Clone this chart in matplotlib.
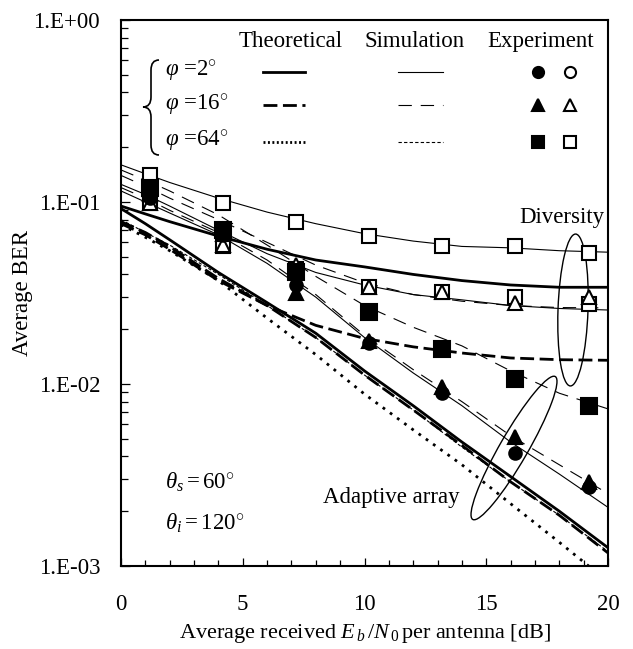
import numpy as np
import matplotlib
matplotlib.use('Agg')
import matplotlib.pyplot as plt
from matplotlib.patches import Ellipse, PathPatch
from matplotlib.path import Path
from matplotlib.ticker import MultipleLocator, LogLocator, NullFormatter, FuncFormatter

plt.rcParams['font.family'] = ['Liberation Serif', 'DejaVu Serif']
plt.rcParams['mathtext.fontset'] = 'custom'
plt.rcParams['mathtext.rm'] = 'Liberation Serif'
plt.rcParams['mathtext.it'] = 'Liberation Serif:italic'
plt.rcParams['font.size'] = 16.5

# Eb/N0 [dB] for the curves
x_curve = [0, 1, 2, 4, 6, 8, 10, 12, 14, 16, 18, 20]

# theoretical (thick)
theo_div_2 = [0.095, 0.086, 0.078, 0.065, 0.055, 0.048, 0.044, 0.040, 0.037, 0.035, 0.034, 0.034]
theo_div_16 = [0.076, 0.066, 0.055, 0.037, 0.027, 0.021, 0.0178, 0.0160, 0.0148, 0.0139, 0.0136, 0.0135]
theo_aa_2 = [0.092, 0.076, 0.062, 0.041, 0.028, 0.019, 0.0118, 0.0076, 0.0048, 0.0031, 0.0020, 0.00126]
theo_aa_16 = [0.078, 0.068, 0.057, 0.038, 0.027, 0.018, 0.0112, 0.0072, 0.0046, 0.0029, 0.0019, 0.00118]
theo_aa_64 = [0.075, 0.064, 0.054, 0.037, 0.023, 0.0145, 0.0088, 0.0056, 0.0036, 0.0022, 0.00135, 0.00082]

# simulation (thin)
sim_div_a = [0.16, 0.143, 0.128, 0.105, 0.088, 0.076, 0.067, 0.061, 0.057, 0.056, 0.054, 0.053]
sim_div_b = [0.125, 0.11, 0.095, 0.07, 0.052, 0.041, 0.035, 0.031, 0.029, 0.027, 0.026, 0.0255]
sim_div_c = [0.14, 0.122, 0.105, 0.08, 0.06, 0.045, 0.036, 0.031, 0.0285, 0.027, 0.0263, 0.0262]
sim_div_d = [0.15, 0.132, 0.115, 0.085, 0.058, 0.039, 0.027, 0.0205, 0.0162, 0.0118, 0.0089, 0.0073]
sim_aa_2 = [0.115, 0.1, 0.087, 0.066, 0.046, 0.03, 0.018, 0.0115, 0.0076, 0.0048, 0.0032, 0.0021]
sim_aa_16 = [0.12, 0.105, 0.09, 0.068, 0.048, 0.031, 0.0185, 0.012, 0.008, 0.0052, 0.0036, 0.0025]
sim_aa_64 = [0.08, 0.068, 0.058, 0.040, 0.027, 0.018, 0.0112, 0.0072, 0.0045, 0.0029, 0.0019, 0.0012]

# experiment
x_exp = [1.2, 4.2, 7.2, 10.2, 13.2, 16.2, 19.2]
exp_aa_circle = [0.105, 0.066, 0.035, 0.0168, 0.0089, 0.0042, 0.0027]
exp_aa_tri = [0.11, 0.067, 0.0318, 0.0172, 0.0096, 0.0051, 0.0029]
exp_aa_sq = [0.119, 0.070, 0.041, 0.025, 0.0156, 0.0107, 0.0076]
exp_div_sq_a = [0.141, 0.099, 0.078, 0.065, 0.057, 0.057, 0.0525]
exp_div_sq_b = [0.099, 0.057, 0.043, 0.034, 0.032, 0.030, 0.0275]
exp_div_tri = [0.099, 0.058, 0.045, 0.034, 0.032, 0.028, 0.030]

fig = plt.figure(figsize=(6.33, 6.49), dpi=100)
ax = fig.add_axes([121/633, 1-566/649, 487/633, 546/649])

thick = 2.0
thin = 0.8
dash_thick = (0, (5, 2))
dot_thick = (0, (1, 2.2))
dash_thin = (0, (12, 8))
dot_thin = (0, (3, 2))

ax.plot(x_curve, sim_div_a, 'k-', lw=thin)
ax.plot(x_curve, sim_div_b, 'k-', lw=thin)
ax.plot(x_curve, sim_div_c, 'k', ls=dash_thin, lw=thin)
ax.plot(x_curve, sim_div_d, 'k', ls=dash_thin, lw=thin)
ax.plot(x_curve, sim_aa_2, 'k-', lw=thin)
ax.plot(x_curve, sim_aa_16, 'k', ls=dash_thin, lw=thin)
ax.plot(x_curve, sim_aa_64, 'k', ls=dot_thin, lw=thin)

ax.plot(x_curve, theo_div_2, 'k-', lw=thick)
ax.plot(x_curve, theo_div_16, 'k', ls=dash_thick, lw=thick)
ax.plot(x_curve, theo_aa_2, 'k-', lw=thick)
ax.plot(x_curve, theo_aa_16, 'k', ls=dash_thick, lw=thick)
ax.plot(x_curve, theo_aa_64, 'k', ls=dot_thick, lw=thick)

ms = dict(ls='none', mec='black', mew=1.5)
ax.plot(x_exp, exp_div_sq_a, marker='s', ms=10.5, mfc='white', **ms)
ax.plot(x_exp, exp_div_sq_b, marker='s', ms=10.5, mfc='white', **ms)
ax.plot(x_exp, exp_div_tri, marker='^', ms=10, mfc='white', **ms)
ax.plot(x_exp, exp_aa_sq, marker='s', ms=11, mfc='black', **ms)
ax.plot(x_exp, exp_aa_circle, marker='o', ms=9, mfc='black', **ms)
ax.plot(x_exp, exp_aa_tri, marker='^', ms=10, mfc='black', **ms)

ax.set_xlim(0, 20)
ax.set_yscale('log')
ax.set_ylim(1e-3, 1)
ax.xaxis.set_major_locator(MultipleLocator(5))
ax.xaxis.set_minor_locator(MultipleLocator(1))
ax.yaxis.set_major_locator(LogLocator(base=10, numticks=10))
ax.yaxis.set_minor_locator(LogLocator(base=10, subs=range(2, 10), numticks=10))
ax.yaxis.set_minor_formatter(NullFormatter())
ax.yaxis.set_major_formatter(FuncFormatter(lambda v, p: '1.E%+03d' % int(round(np.log10(v)))))
ax.tick_params(axis='x', which='major', direction='in', length=6, width=0.9, pad=20)
ax.tick_params(axis='x', which='minor', direction='in', length=4, width=0.9)
ax.tick_params(axis='y', which='major', direction='in', length=6.5, width=0.9, pad=15)
ax.tick_params(axis='y', which='minor', direction='in', length=5, width=0.9)
for s in ax.spines.values():
    s.set_linewidth(1.5)

ax.set_ylabel('Average BER')
ax.yaxis.set_label_coords(-0.18, 0.5)
ax.set_xlabel(r'Average received $E_{\,b}\,/N_{\,0}\,$per antenna [dB]', fontsize=16)
ax.xaxis.set_label_coords(0.5, -0.102)

# legend drawn by hand
T = ax.transAxes
ax.text(0.349, 0.960, 'Theoretical', transform=T, ha='center', va='center')
ax.text(0.602, 0.960, 'Simulation', transform=T, ha='center', va='center')
ax.text(0.862, 0.960, 'Experiment', transform=T, ha='center', va='center')
rows = [0.905, 0.844, 0.777]
phi_labels = [r'$\varphi$ =2$^{\circ}$', r'$\varphi$ =16$^{\circ}$', r'$\varphi$ =64$^{\circ}$']
theo_styles = ['-', dash_thick, (0, (0.7, 0.9))]
sim_styles = ['-', dash_thin, dot_thin]
markers = ['o', '^', 's']
for r, lab, ts, ss, mk in zip(rows, phi_labels, theo_styles, sim_styles, markers):
    ax.text(0.090, r, lab, transform=T, ha='left', va='center')
    ax.plot([0.292, 0.378], [r, r], 'k', ls=ts, lw=thick, transform=T)
    ax.plot([0.569, 0.661], [r, r], 'k', ls=ss, lw=thin, transform=T)
    ax.plot([0.856], [r], marker=mk, ms=8, mfc='black', transform=T, **ms)
    ax.plot([0.922], [r], marker=mk, ms=8, mfc='white', transform=T, **ms)

# brace
H = 649
def p(x, y):
    return (x / 100, (H - y) / 100)
verts = [p(159, 60), p(151, 60), p(151, 70), p(151, 97), p(151, 107), p(143, 107),
         p(151, 107), p(151, 117), p(151, 145), p(151, 155), p(159, 155)]
codes = [Path.MOVETO, Path.CURVE3, Path.CURVE3, Path.LINETO, Path.CURVE3, Path.CURVE3,
         Path.CURVE3, Path.CURVE3, Path.LINETO, Path.CURVE3, Path.CURVE3]
ax.add_patch(PathPatch(Path(verts, codes), fc='none', ec='black', lw=1.2,
                       transform=fig.dpi_scale_trans, clip_on=False))

# annotations
ax.text(0.905, 0.639, 'Diversity', transform=T, ha='center', va='center')
ax.text(0.556, 0.126, 'Adaptive array', transform=T, ha='center', va='center')
ax.text(0.090, 0.154, r'$\theta_s = 60^{\circ}$', transform=T, ha='left', va='center')
ax.text(0.090, 0.079, r'$\theta_i = 120^{\circ}$', transform=T, ha='left', va='center')
ax.add_patch(Ellipse(p(573, 310), 1.52, 0.30, angle=88, fc='none', ec='black', lw=1.0,
                     transform=fig.dpi_scale_trans, clip_on=False))
ax.add_patch(Ellipse(p(514, 448), 1.65, 0.28, angle=60, fc='none', ec='black', lw=1.0,
                     transform=fig.dpi_scale_trans, clip_on=False))

fig.savefig('out.png', dpi=100)
